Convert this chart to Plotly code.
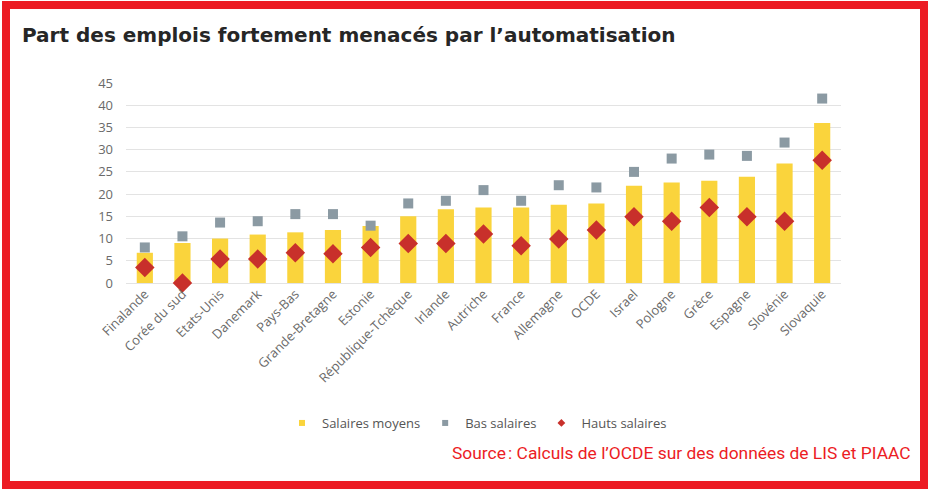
import plotly.graph_objects as go

categories = ["Finalande", "Corée du sud", "Etats-Unis", "Danemark", "Pays-Bas",
              "Grande-Bretagne", "Estonie", "République-Tchèque", "Irlande", "Autriche",
              "France", "Allemagne", "OCDE", "Israel", "Pologne", "Grèce", "Espagne",
              "Slovénie", "Slovaquie"]
salaires_moyens = [6.8, 9.0, 10.0, 10.9, 11.4, 11.9, 12.8, 15.0, 16.6, 17.0,
                   17.0, 17.6, 17.9, 21.9, 22.6, 23.0, 23.9, 26.9, 36.0]
bas_salaires = [8.0, 10.5, 13.6, 13.9, 15.5, 15.5, 12.9, 17.9, 18.5, 20.9,
                18.5, 22.0, 21.5, 25.0, 28.0, 28.9, 28.6, 31.6, 41.5]
hauts_salaires = [3.5, 0.0, 5.4, 5.4, 6.8, 6.6, 8.0, 8.9, 8.9, 11.0,
                  8.4, 9.9, 11.9, 14.9, 13.9, 17.0, 14.9, 13.9, 27.6]
y_ticks = [0, 5, 10, 15, 20, 25, 30, 35, 40, 45]

YELLOW = "#fad43c"
GRAY = "#8b9aa3"
RED = "#c8302b"
BORDER = "#ec1c24"
FONT = "Open Sans"

W, H = 930, 489
L, R, T, B = 126, 841, 83, 283


def px(x):
    return (x - L) / (R - L)


def py(y):
    return (B - y) / (B - T)


fig = go.Figure()
fig.add_trace(go.Bar(x=categories, y=salaires_moyens, name="Salaires moyens",
                     marker=dict(color=YELLOW, line=dict(width=0)),
                     width=0.43, showlegend=False))
fig.add_trace(go.Scatter(x=categories, y=bas_salaires, mode="markers", name="Bas salaires",
                         marker=dict(symbol="square", size=10, color=GRAY),
                         showlegend=False, cliponaxis=False))
fig.add_trace(go.Scatter(x=categories, y=hauts_salaires, mode="markers", name="Hauts salaires",
                         marker=dict(symbol="diamond", size=15, color=RED),
                         showlegend=False, cliponaxis=False))

# legend entries (small symbols as in the reference)
for nm, sym, col in [("Salaires moyens", "square", YELLOW),
                     ("Bas salaires", "square", GRAY),
                     ("Hauts salaires", "diamond", RED)]:
    fig.add_trace(go.Scatter(x=[None], y=[None], mode="markers", name=nm,
                             marker=dict(symbol=sym, size=6, color=col)))

fig.update_layout(
    width=W, height=H,
    margin=dict(l=L, r=W - R, t=T, b=H - B, autoexpand=False),
    paper_bgcolor="white", plot_bgcolor="white",
    font=dict(family=FONT, color="#666666", size=13),
    title=dict(text="<b>Part des emplois fortement menacés par l’automatisation</b>",
               x=22 / W, xanchor="left", xref="container",
               y=1 - 35 / H, yanchor="middle", yref="container",
               font=dict(family="DejaVu Sans", size=20, color="#262626")),
    bargap=0.57,
    showlegend=True,
    legend=dict(orientation="h", x=282 / W, xref="container", xanchor="left",
                y=1 - 423 / H, yref="container", yanchor="middle",
                font=dict(size=13, color="#555555"), itemwidth=30,
                bgcolor="rgba(0,0,0,0)"),
    xaxis=dict(tickangle=-45, showgrid=False, showline=False, ticks="",
               tickfont=dict(size=13, color="#6a6a6a"), range=[-0.5, 18.5]),
    yaxis=dict(range=[0, 45], tickvals=y_ticks, showgrid=True, gridcolor="#e3e3e3",
               gridwidth=1, zeroline=True, zerolinecolor="#e3e3e3", zerolinewidth=1,
               showline=False, ticks="", ticklabelstandoff=12,
               tickfont=dict(size=13, color="#6a6a6a")),
    shapes=[dict(type="rect", xref="paper", yref="paper",
                 x0=px(6), x1=px(924), y0=py(5), y1=py(485),
                 line=dict(color=BORDER, width=8), fillcolor="rgba(0,0,0,0)", layer="above")],
    annotations=[dict(text="Source\u202f: Calculs de l’OCDE sur des données de LIS et PIAAC",
                      xref="paper", yref="paper", x=px(913), y=py(453),
                      xanchor="right", yanchor="middle", showarrow=False,
                      font=dict(family="Roboto", size=17.4, color=BORDER))],
)

fig.write_html("out.html", config={"displayModeBar": False},
               post_script="document.body.style.margin='0';document.body.style.overflow='hidden';")
